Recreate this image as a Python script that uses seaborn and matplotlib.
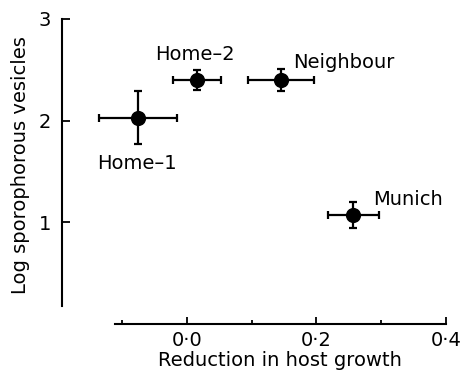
import matplotlib
matplotlib.use('Agg')
import matplotlib.pyplot as plt
from matplotlib.ticker import FixedLocator
import seaborn as sns
import pandas as pd

# values
isolates = ['Home–1', 'Home–2', 'Neighbour', 'Munich']
growth_reduction = [-0.076, 0.015, 0.145, 0.257]
growth_err = [0.060, 0.037, 0.051, 0.039]
log_vesicles = [2.03, 2.40, 2.40, 1.07]
vesicles_err = [0.26, 0.10, 0.11, 0.13]

x_ticks = [0.0, 0.2, 0.4]
x_tick_labels = ['0·0', '0·2', '0·4']
x_minor_ticks = [-0.1, 0.1, 0.3]
y_ticks = [1, 2, 3]

df = pd.DataFrame({'isolate': isolates, 'x': growth_reduction, 'xerr': growth_err,
                   'y': log_vesicles, 'yerr': vesicles_err})

sns.set_style('ticks')
plt.rcParams['font.family'] = ['DejaVu Sans']
plt.rcParams['font.size'] = 14
for k in ['text.color', 'axes.labelcolor', 'xtick.color', 'ytick.color', 'axes.edgecolor']:
    plt.rcParams[k] = 'black'

fig = plt.figure(figsize=(4.61, 3.82), dpi=100)
ax = fig.add_axes([62 / 461, 1 - 324 / 382, 384 / 461, 305 / 382])

ax.errorbar(df['x'], df['y'], xerr=df['xerr'], yerr=df['yerr'], fmt='none',
            ecolor='black', elinewidth=1.6, capsize=3, capthick=1.6, zorder=2)
sns.scatterplot(data=df, x='x', y='y', color='black', s=120, edgecolor='black',
                linewidth=0, ax=ax, zorder=3, legend=False)

# label placement (pixels -> points)
offsets = {'Home–1': (-1, -51, 'center'), 'Home–2': (-2, 20, 'center'),
           'Neighbour': (12, 12, 'left'), 'Munich': (20, 10, 'left')}
for _, r in df.iterrows():
    dx, dy, ha = offsets[r['isolate']]
    ax.annotate(r['isolate'], (r['x'], r['y']), xytext=(dx * 0.72, dy * 0.72),
                textcoords='offset points', ha=ha, va='baseline', fontsize=14)

ax.set_xlim(-0.193, 0.4)
ax.set_ylim(0.0, 3.0)
for s in ['top', 'right']:
    ax.spines[s].set_visible(False)
ax.spines['left'].set_bounds(0.18, 3.0)
ax.spines['bottom'].set_bounds(-0.111, 0.4)
ax.spines['left'].set_linewidth(1.5)
ax.spines['bottom'].set_linewidth(1.5)

ax.xaxis.set_major_locator(FixedLocator(x_ticks))
ax.set_xticklabels(x_tick_labels)
ax.xaxis.set_minor_locator(FixedLocator(x_minor_ticks))
ax.yaxis.set_major_locator(FixedLocator(y_ticks))
ax.set_yticklabels([str(t) for t in y_ticks])
ax.tick_params(axis='x', which='major', direction='in', length=5, width=1.3, pad=5, labelsize=14)
ax.tick_params(axis='x', which='minor', direction='in', length=3, width=1.3)
ax.tick_params(axis='y', which='major', direction='in', length=6, width=1.3, pad=8, labelsize=14)

ax.set_xlabel('Reduction in host growth', fontsize=14)
ax.set_ylabel('Log sporophorous vesicles', fontsize=14)
ax.xaxis.set_label_coords((280 - 62) / 384, (324 - 351) / 305)
ax.yaxis.set_label_coords((30 - 62) / 384, (324 - 165) / 305)

fig.savefig('out.png', dpi=100)
